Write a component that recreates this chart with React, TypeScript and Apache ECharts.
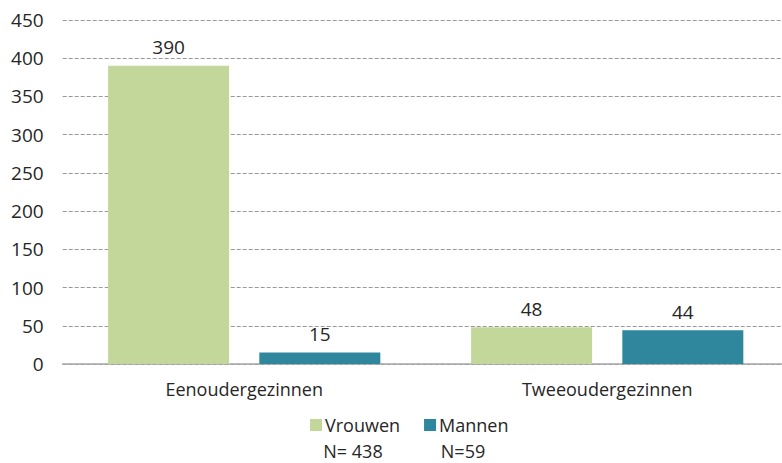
import React, { useEffect, useRef } from "react";
import * as echarts from "echarts";

const categories = ["Eenoudergezinnen", "Tweeoudergezinnen"];
const vrouwen = [390, 48];
const mannen = [15, 44];
const nLabels = ["N= 438", "N=59"];
const yTicks = { min: 0, max: 450, interval: 50 };

const FONT = "'Open Sans', 'Noto Sans', sans-serif";
const TXT = "#262626";

export default function App() {
  const ref = useRef<HTMLDivElement>(null);
  useEffect(() => {
    if (!ref.current) return;
    const chart = echarts.init(ref.current, null, { renderer: "svg" });
    chart.setOption({
      animation: false,
      textStyle: { fontFamily: FONT },
      grid: { left: 62.7, width: 726, top: 20, bottom: 99, outerBoundsMode: "none", containLabel: false },
      legend: {
        top: 411,
        left: 305,
        itemWidth: 12,
        itemHeight: 12,
        itemGap: 24,
        icon: "rect",
        textStyle: { fontSize: 18, color: TXT, fontFamily: FONT, padding: [0, 0, 0, -2] },
        data: ["Vrouwen", "Mannen"],
      },
      xAxis: {
        type: "category",
        data: categories,
        axisLine: { lineStyle: { color: "#a6a6a6", width: 1.5 } },
        axisTick: { show: false },
        axisLabel: { fontSize: 18, color: TXT, margin: 16, fontFamily: FONT },
      },
      yAxis: {
        type: "value",
        min: yTicks.min,
        max: yTicks.max,
        interval: yTicks.interval,
        axisLine: { show: false },
        axisTick: { show: false },
        axisLabel: { fontSize: 19, color: TXT, margin: 19, fontFamily: FONT },
        splitLine: { lineStyle: { color: "#999", type: [4, 2], width: 1 } },
      },
      series: [
        {
          name: "Vrouwen",
          type: "bar",
          data: vrouwen,
          barWidth: 121,
          barGap: "25%",
          itemStyle: { color: "#c4d79b" },
          label: { show: true, position: "top", distance: 9, fontSize: 19, color: TXT, fontFamily: FONT },
        },
        {
          name: "Mannen",
          type: "bar",
          data: mannen,
          barWidth: 121,
          itemStyle: { color: "#2e879c" },
          label: { show: true, position: "top", distance: 9, fontSize: 19, color: TXT, fontFamily: FONT },
        },
      ],
      graphic: [
        {
          type: "text",
          x: 353,
          y: 451,
          style: { text: nLabels[0], fontSize: 18, fill: TXT, fontFamily: FONT, align: "center", verticalAlign: "middle" },
        },
        {
          type: "text",
          x: 463,
          y: 451,
          style: { text: nLabels[1], fontSize: 18, fill: TXT, fontFamily: FONT, align: "center", verticalAlign: "middle" },
        },
      ],
    });
    return () => chart.dispose();
  }, []);
  return <div ref={ref} style={{ width: 782, height: 463, position: "absolute", left: 0, top: 0 }} />;
}
